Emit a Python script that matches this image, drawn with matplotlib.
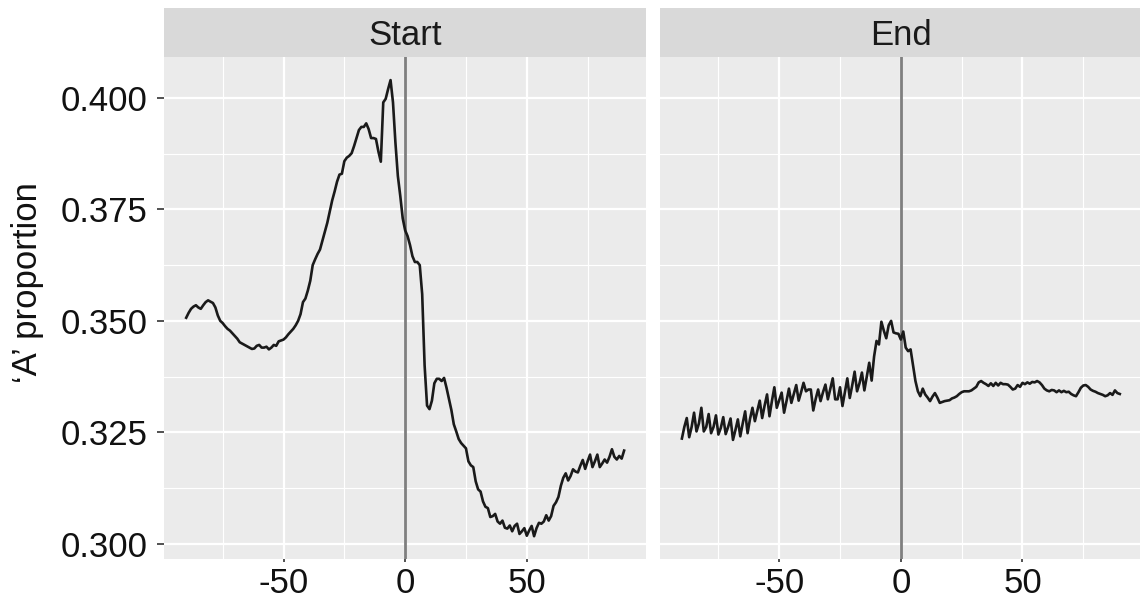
import matplotlib.pyplot as plt
import numpy as np

plt.rcParams['font.family'] = ['Liberation Sans', 'DejaVu Sans']
plt.rcParams['axes.unicode_minus'] = False

# position relative to the start / end site
positions = np.arange(-90, 91)

start_prop = [
    0.3507, 0.3518, 0.3527, 0.3532, 0.3535, 0.3530, 0.3527, 0.3535, 0.3542, 0.3546,
    0.3543, 0.3540, 0.3530, 0.3512, 0.3500, 0.3495, 0.3488, 0.3482, 0.3478, 0.3472,
    0.3466, 0.3460, 0.3452, 0.3449, 0.3446, 0.3443, 0.3440, 0.3437, 0.3438, 0.3444,
    0.3446, 0.3440, 0.3440, 0.3442, 0.3436, 0.3440, 0.3446, 0.3444, 0.3454, 0.3456,
    0.3458, 0.3463, 0.3470, 0.3476, 0.3482, 0.3490, 0.3500, 0.3515, 0.3542, 0.3550,
    0.3568, 0.3590, 0.3625, 0.3638, 0.3650, 0.3660, 0.3680, 0.3700, 0.3720, 0.3745,
    0.3770, 0.3790, 0.3812, 0.3828, 0.3830, 0.3858, 0.3866, 0.3870, 0.3876, 0.3892,
    0.3910, 0.3928, 0.3935, 0.3935, 0.3943, 0.3930, 0.3910, 0.3910, 0.3908, 0.3880,
    0.3857, 0.3990, 0.3998, 0.4020, 0.4040, 0.3990, 0.3900, 0.3825, 0.3780, 0.3730,
    0.3703,  # 0
    0.3690, 0.3670, 0.3645, 0.3632, 0.3632, 0.3625, 0.3560, 0.3400, 0.3310, 0.3302,
    0.3321, 0.3360, 0.3370, 0.3370, 0.3365, 0.3372, 0.3350, 0.3325, 0.3300, 0.3268,
    0.3252, 0.3235, 0.3226, 0.3220, 0.3214, 0.3185, 0.3176, 0.3172, 0.3140, 0.3122,
    0.3117, 0.3095, 0.3083, 0.3080, 0.3060, 0.3062, 0.3067, 0.3050, 0.3045, 0.3052,
    0.3036, 0.3034, 0.3041, 0.3028, 0.3040, 0.3045, 0.3022, 0.3028, 0.3035, 0.3018,
    0.3030, 0.3040, 0.3017, 0.3035, 0.3047, 0.3045, 0.3050, 0.3064, 0.3052, 0.3062,
    0.3085, 0.3093, 0.3105, 0.3130, 0.3148, 0.3158, 0.3142, 0.3152, 0.3167, 0.3162,
    0.3160, 0.3175, 0.3188, 0.3168, 0.3185, 0.3200, 0.3172, 0.3185, 0.3200, 0.3172,
    0.3180, 0.3189, 0.3182, 0.3195, 0.3212, 0.3195, 0.3189, 0.3197, 0.3191, 0.3209,
]

end_prop = [
    0.3236, 0.3262, 0.3282, 0.3239, 0.3262, 0.3294, 0.3252, 0.3270, 0.3305, 0.3252,
    0.3262, 0.3291, 0.3248, 0.3262, 0.3288, 0.3245, 0.3260, 0.3284, 0.3246, 0.3262,
    0.3281, 0.3233, 0.3255, 0.3279, 0.3241, 0.3270, 0.3297, 0.3248, 0.3280, 0.3305,
    0.3275, 0.3298, 0.3321, 0.3282, 0.3310, 0.3335, 0.3286, 0.3320, 0.3351, 0.3305,
    0.3322, 0.3339, 0.3294, 0.3320, 0.3348, 0.3316, 0.3336, 0.3356, 0.3321, 0.3340,
    0.3361, 0.3342, 0.3346, 0.3346, 0.3299, 0.3325, 0.3346, 0.3320, 0.3340, 0.3357,
    0.3324, 0.3348, 0.3371, 0.3324, 0.3324, 0.3351, 0.3309, 0.3340, 0.3371, 0.3327,
    0.3355, 0.3386, 0.3342, 0.3360, 0.3384, 0.3344, 0.3375, 0.3406, 0.3366, 0.3420,
    0.3455, 0.3447, 0.3498, 0.3478, 0.3461, 0.3490, 0.3500, 0.3474, 0.3472, 0.3471,
    0.3458,  # 0
    0.3476, 0.3440, 0.3432, 0.3436, 0.3400, 0.3365, 0.3342, 0.3331, 0.3348, 0.3335,
    0.3328, 0.3320, 0.3330, 0.3338, 0.3328, 0.3316, 0.3318, 0.3320, 0.3321, 0.3322,
    0.3326, 0.3328, 0.3331, 0.3336, 0.3340, 0.3342, 0.3342, 0.3342, 0.3344, 0.3348,
    0.3352, 0.3362, 0.3365, 0.3361, 0.3358, 0.3354, 0.3360, 0.3354, 0.3361, 0.3355,
    0.3361, 0.3358, 0.3358, 0.3357, 0.3352, 0.3346, 0.3348, 0.3356, 0.3352, 0.3361,
    0.3358, 0.3362, 0.3359, 0.3363, 0.3362, 0.3365, 0.3362, 0.3356, 0.3348, 0.3344,
    0.3342, 0.3345, 0.3344, 0.3340, 0.3344, 0.3340, 0.3343, 0.3340, 0.3341, 0.3336,
    0.3333, 0.3331, 0.3340, 0.3350, 0.3355, 0.3356, 0.3352, 0.3346, 0.3343, 0.3341,
    0.3338, 0.3336, 0.3334, 0.3331, 0.3333, 0.3338, 0.3334, 0.3344, 0.3338, 0.3336,
]

facets = ['Start', 'End']
series = [start_prop, end_prop]
x_ticks = [-50, 0, 50]
x_minor = [-75, -25, 25, 75]
y_ticks = [0.300, 0.325, 0.350, 0.375, 0.400]
y_labels = ['0.300', '0.325', '0.350', '0.375', '0.400']

W, H = 1140, 602
fig = plt.figure(figsize=(W / 100, H / 100), dpi=100)

panel_left = [164.3, 660]
panel_w = 481.7
panel_top, panel_bot = 57.3, 559
strip_top = 8.3
fs = 25

all_vals = np.concatenate([start_prop, end_prop])
ypad = (all_vals.max() - all_vals.min()) * 0.05
ylim = (all_vals.min() - ypad, all_vals.max() + ypad)
xpad = (positions.max() - positions.min()) * 0.05
xlim = (positions.min() - xpad, positions.max() + xpad)

for i, (name, vals) in enumerate(zip(facets, series)):
    ax = fig.add_axes([panel_left[i] / W, (H - panel_bot) / H,
                       panel_w / W, (panel_bot - panel_top) / H])
    ax.set_facecolor('#EBEBEB')
    for s in ax.spines.values():
        s.set_visible(False)
    ax.set_xlim(*xlim)
    ax.set_ylim(*ylim)
    ax.set_xticks(x_ticks)
    ax.set_xticks(x_minor, minor=True)
    ax.set_yticks(y_ticks)
    ax.set_yticks([0.3125, 0.3375, 0.3625, 0.3875], minor=True)
    ax.grid(which='major', color='white', linewidth=1.6)
    ax.grid(which='minor', color='white', linewidth=0.8)
    ax.set_axisbelow(True)
    ax.tick_params(axis='x', which='major', length=2.5, width=1.2, color='#333333',
                   labelsize=fs, labelcolor='#111111', pad=3)
    ax.tick_params(axis='y', which='major', length=5, width=1.2, color='#333333',
                   labelsize=fs, labelcolor='#111111', pad=7)
    ax.tick_params(which='minor', length=0)
    if i == 0:
        ax.set_yticklabels(y_labels)
    else:
        ax.tick_params(axis='y', left=False, labelleft=False)

    ax.axvline(0, color='#7F7F7F', linewidth=2, zorder=2)
    ax.plot(positions, vals, color='#1A1A1A', linewidth=1.9, zorder=3)

    # facet strip
    sax = fig.add_axes([panel_left[i] / W, (H - panel_top) / H,
                        panel_w / W, (panel_top - strip_top) / H])
    sax.set_facecolor('#D9D9D9')
    sax.set_xticks([])
    sax.set_yticks([])
    for s in sax.spines.values():
        s.set_visible(False)
    sax.text(0.5, 0.44, name, ha='center', va='center', fontsize=fs,
             color='#1A1A1A', transform=sax.transAxes)

fig.text(28 / W, 1 - 283 / H, '\u2018A\u2019 proportion', rotation=90,
         ha='center', va='center', fontsize=fs, color='#111111')

fig.savefig('out.png', dpi=100)
